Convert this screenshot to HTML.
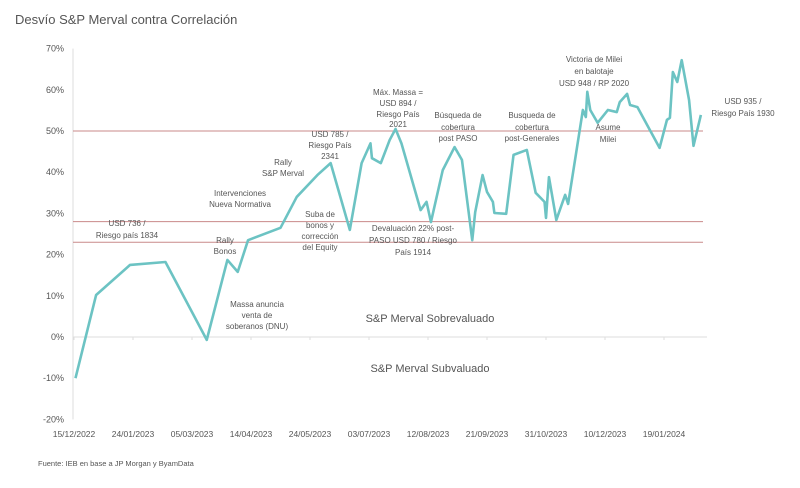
<!DOCTYPE html>
<html><head><meta charset="utf-8"><style>
body{margin:0;background:#fff;}
svg text{font-family:"Liberation Sans",sans-serif;fill:#555;}
.ann{font-size:8px;text-anchor:middle;}
</style></head><body>
<svg width="800" height="483" id="c">
<text x="15" y="24" font-size="13">Desvío S&amp;P Merval contra Correlación</text>
<g id="axes"></g>
<g id="plot"></g>
<g>
<text class="ann" x="127" y="226">USD 736 /</text><text class="ann" x="127" y="238">Riesgo país 1834</text>
<text class="ann" x="225" y="243">Rally</text><text class="ann" x="225" y="254">Bonos</text>
<text class="ann" x="240" y="196">Intervenciones</text><text class="ann" x="240" y="207">Nueva Normativa</text>
<text class="ann" x="283" y="165">Rally</text><text class="ann" x="283" y="176">S&amp;P Merval</text>
<text class="ann" x="330" y="137">USD 785 /</text><text class="ann" x="330" y="148">Riesgo País</text><text class="ann" x="330" y="159">2341</text>
<text class="ann" x="320" y="217">Suba de</text><text class="ann" x="320" y="228">bonos y</text><text class="ann" x="320" y="239">corrección</text><text class="ann" x="320" y="250">del Equity</text>
<text class="ann" x="257" y="307">Massa anuncia</text><text class="ann" x="257" y="318">venta de</text><text class="ann" x="257" y="329">soberanos (DNU)</text>
<text class="ann" x="398" y="95">Máx. Massa =</text><text class="ann" x="398" y="106">USD 894 /</text><text class="ann" x="398" y="117">Riesgo País</text><text class="ann" x="398" y="127">2021</text>
<text class="ann" x="458" y="118">Búsqueda de</text><text class="ann" x="458" y="130">cobertura</text><text class="ann" x="458" y="141">post PASO</text>
<text class="ann" x="532" y="118">Busqueda de</text><text class="ann" x="532" y="130">cobertura</text><text class="ann" x="532" y="141">post-Generales</text>
<text class="ann" x="413" y="231">Devaluación 22% post-</text><text class="ann" x="413" y="243">PASO USD 780 / Riesgo</text><text class="ann" x="413" y="255">País 1914</text>
<text class="ann" x="594" y="62">Victoria de Milei</text><text class="ann" x="594" y="74">en balotaje</text><text class="ann" x="594" y="86">USD 948 / RP 2020</text>
<text class="ann" x="608" y="130">Asume</text><text class="ann" x="608" y="142">Milei</text>
<text class="ann" x="743" y="104">USD 935 /</text><text class="ann" x="743" y="116">Riesgo País 1930</text>
<text x="430" y="322" font-size="11" text-anchor="middle">S&amp;P Merval Sobrevaluado</text>
<text x="430" y="372" font-size="11" text-anchor="middle">S&amp;P Merval Subvaluado</text>
</g>
<text x="38" y="466" font-size="7.5">Fuente: IEB en base a JP Morgan y ByamData</text>
</svg>
<script>
const yTicks=[70,60,50,40,30,20,10,0,-10,-20];
const xTickLabels=["15/12/2022","24/01/2023","05/03/2023","14/04/2023","24/05/2023","03/07/2023","12/08/2023","21/09/2023","31/10/2023","10/12/2023","19/01/2024"];
const refLines=[50,28,23];
const days=[1,15,38,62,90,104,111,118,140,151,165,174,187,195,201,202,208,214,218,222,235,239,242,250,258,263,270,272,277,280,284,285,293,298,307,313,319,320,322,327,333,335,345,347,348,350,355,362,368,370,375,377,382,397,402,404,406,409,412,417,420,425];
const values=[-10,10.2,17.5,18.2,-0.7,18.7,15.8,23.5,26.5,34,39.3,42.2,26,42.2,47,43.4,42.2,47.8,50.5,47,30.8,32.8,27.9,40.5,46.1,43,23.5,30.3,39.3,35.2,32.8,30.1,29.9,44.2,45.4,35,32.8,28.9,38.8,28.4,34.5,32.3,55.1,53.4,59.5,55.1,52,55.1,54.6,57,59,56.3,55.8,45.9,52.7,53.2,64.3,61.9,67.2,57.5,46.4,53.9];
const NS="http://www.w3.org/2000/svg";
const x=d=>74+d*59/40;
const y=v=>337-v*4.12;
function mk(t,a,p){const e=document.createElementNS(NS,t);for(const k in a)e.setAttribute(k,a[k]);p.appendChild(e);return e;}
const ax=document.getElementById('axes'),pl=document.getElementById('plot');
let l=mk('line',{x1:73,x2:73,y1:y(70),y2:y(-20),stroke:'#ddd'},ax);


l=mk('line',{x1:73,x2:707,y1:y(0),y2:y(0),stroke:'#ddd'},ax);


yTicks.forEach(v=>{const t=mk('text',{x:64,y:y(v)+3,'font-size':9,'text-anchor':'end'},ax);t.textContent=v+'%';

});
xTickLabels.forEach((s,i)=>{const xx=x(i*40);
mk('line',{x1:xx,x2:xx,y1:y(0),y2:y(0)+3,stroke:'#ddd'},ax);
const t=mk('text',{x:xx,y:437,'font-size':8.5,'text-anchor':'middle'},ax);t.textContent=s;

});
refLines.forEach(v=>{const r=mk('line',{x1:73,x2:703,y1:y(v),y2:y(v),stroke:'#c98a8a','stroke-width':1},pl);

});
const p=mk('polyline',{points:days.map((d,i)=>x(d)+','+y(values[i])).join(' '),fill:'none',stroke:'#6cc3c3','stroke-width':2.6,'stroke-linejoin':'round'},pl);


</script>
</body></html>
